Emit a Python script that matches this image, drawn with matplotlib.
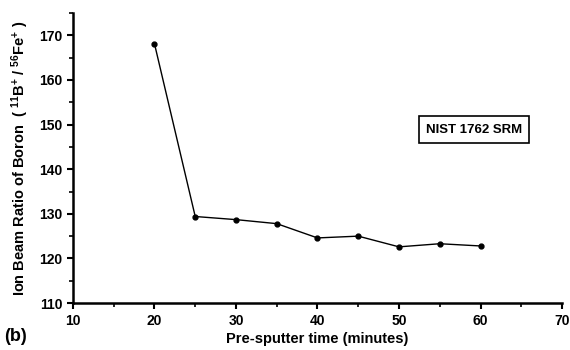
import matplotlib
matplotlib.use('Agg')
import matplotlib.pyplot as plt
from matplotlib.ticker import MultipleLocator

# pre-sputter time (minutes) vs ion beam ratio 11B+/56Fe+
time_min = [20, 25, 30, 35, 40, 45, 50, 55, 60]
ratio = [168.1, 129.4, 128.7, 127.8, 124.6, 125.0, 122.6, 123.3, 122.8]

plt.rcParams['font.family'] = 'Liberation Sans'
plt.rcParams['font.weight'] = 'bold'
plt.rcParams['mathtext.fontset'] = 'custom'
plt.rcParams['mathtext.rm'] = 'Liberation Sans:bold'
plt.rcParams['mathtext.it'] = 'Liberation Sans:bold'
plt.rcParams['mathtext.bf'] = 'Liberation Sans:bold'

fig = plt.figure(figsize=(5.7, 3.5), dpi=100)
ax = fig.add_axes([0.128, 0.134, 0.858, 0.829])

ax.plot(time_min, ratio, color='black', linewidth=1, marker='o', markersize=3.5)

ax.set_xlim(10, 70)
ax.set_ylim(110, 175)
ax.xaxis.set_major_locator(MultipleLocator(10))
ax.xaxis.set_minor_locator(MultipleLocator(5))
ax.yaxis.set_major_locator(MultipleLocator(10))
ax.yaxis.set_minor_locator(MultipleLocator(5))

for side in ['top', 'right']:
    ax.spines[side].set_visible(False)
for side in ['left', 'bottom']:
    ax.spines[side].set_linewidth(1.8)

ax.tick_params(which='major', direction='out', length=4, width=1.5, labelsize=10)
ax.tick_params(which='minor', direction='out', length=3, width=1.2)

ax.set_xlabel('Pre-sputter time (minutes)', fontsize=10.5, fontweight='bold', labelpad=3)
ax.set_ylabel(r'Ion Beam Ratio of Boron  ( $^{11}$B$^{+}$ / $^{56}$Fe$^{+}$ )',
              fontsize=10.5, fontweight='bold', labelpad=6)

ax.text(0.82, 0.598, 'NIST 1762 SRM', transform=ax.transAxes, fontsize=9.5,
        fontweight='bold', ha='center', va='center',
        bbox=dict(boxstyle='square,pad=0.55', facecolor='white', edgecolor='black', linewidth=1.2))

fig.text(0.008, 0.025, '(b)', fontsize=13, fontweight='bold')

fig.savefig('out.png', dpi=100)
